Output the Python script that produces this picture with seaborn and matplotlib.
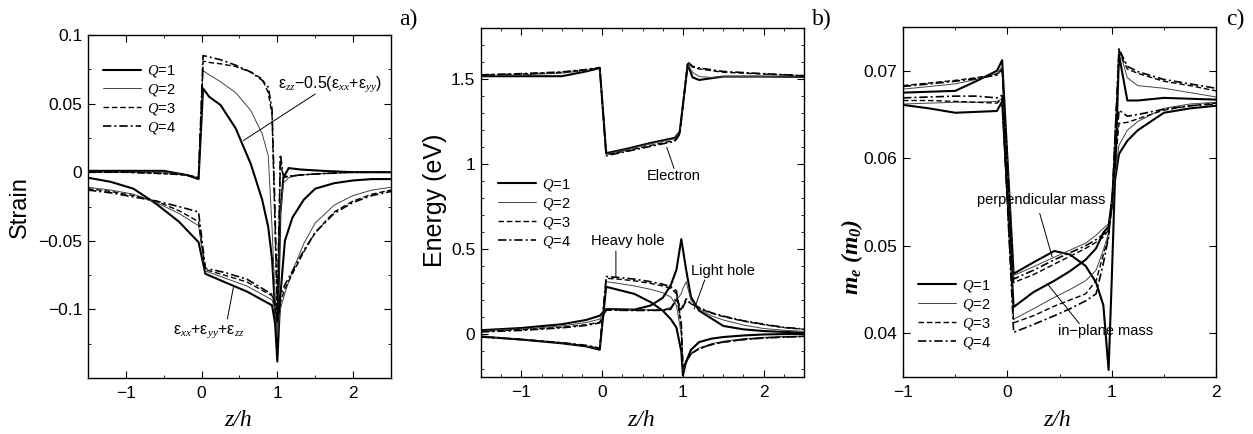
import numpy as np
import pandas as pd
import seaborn as sns
import matplotlib.pyplot as plt
from matplotlib.lines import Line2D
from matplotlib.ticker import MultipleLocator, FixedLocator, FuncFormatter
from matplotlib import font_manager

# ---------------------------------------------------------------- data
Q_LABELS = ["$Q$=1", "$Q$=2", "$Q$=3", "$Q$=4"]

# (a) strain along the dot axis
z_shear = [-1.5, -1.0, -0.5, -0.2, -0.04, 0.02, 0.1, 0.25, 0.45, 0.65, 0.8,
           0.88, 0.93, 0.97, 1.0, 1.04, 1.08, 1.15, 1.3, 1.6, 2.0, 2.5]
shear_q1 = [0.001, 0.001, 0.001, -0.002, -0.005, 0.061, 0.055, 0.049, 0.032, 0.006, -0.020,
            -0.040, -0.063, -0.100, -0.128, -0.030, -0.004, 0.003, 0.002, 0.001, 0.0, 0.0]
shear_q2 = [0.0, 0.0, 0.0, -0.002, -0.004, 0.074, 0.071, 0.066, 0.058, 0.045, 0.028,
            0.012, -0.040, -0.090, -0.118, -0.030, -0.008, -0.004, -0.002, -0.001, 0.0, 0.0]
shear_q3 = [0.0, 0.0, -0.001, -0.002, -0.004, 0.081, 0.080, 0.079, 0.077, 0.073, 0.068,
            0.058, 0.042, -0.040, -0.105, 0.008, -0.004, -0.003, -0.002, -0.001, 0.0, 0.0]
shear_q4 = [0.0, 0.0, -0.001, -0.002, -0.004, 0.085, 0.084, 0.082, 0.078, 0.073, 0.067,
            0.062, 0.046, -0.030, -0.100, 0.013, -0.003, -0.003, -0.002, -0.001, 0.0, 0.0]

z_trace = [-1.5, -1.2, -0.9, -0.6, -0.3, -0.04, 0.05, 0.3, 0.6, 0.93, 0.97, 1.0,
           1.04, 1.1, 1.2, 1.35, 1.5, 1.75, 2.0, 2.25, 2.5]
trace_q1 = [-0.004, -0.007, -0.012, -0.023, -0.036, -0.051, -0.074, -0.080, -0.087, -0.097, -0.110, -0.138,
            -0.090, -0.050, -0.033, -0.020, -0.012, -0.008, -0.006, -0.005, -0.005]
trace_q2 = [-0.011, -0.013, -0.016, -0.022, -0.030, -0.039, -0.072, -0.077, -0.083, -0.093, -0.100, -0.120,
            -0.100, -0.088, -0.072, -0.052, -0.037, -0.024, -0.017, -0.013, -0.011]
trace_q3 = [-0.012, -0.014, -0.017, -0.021, -0.028, -0.036, -0.071, -0.075, -0.080, -0.090, -0.098, -0.110,
            -0.095, -0.085, -0.074, -0.058, -0.044, -0.029, -0.021, -0.016, -0.013]
trace_q4 = [-0.013, -0.015, -0.018, -0.021, -0.025, -0.029, -0.070, -0.073, -0.078, -0.089, -0.096, -0.105,
            -0.090, -0.082, -0.072, -0.057, -0.044, -0.030, -0.022, -0.017, -0.014]

# (b) band edges
z_el = [-1.5, -1.0, -0.5, -0.2, -0.03, 0.05, 0.3, 0.6, 0.9, 0.96, 1.06, 1.12, 1.2, 1.35, 1.5, 2.0, 2.5]
el_q1 = [1.517, 1.517, 1.517, 1.545, 1.565, 1.065, 1.090, 1.125, 1.155, 1.190, 1.585, 1.510, 1.495, 1.505, 1.515, 1.515, 1.513]
el_q2 = [1.520, 1.525, 1.535, 1.550, 1.565, 1.060, 1.085, 1.120, 1.150, 1.185, 1.585, 1.540, 1.515, 1.510, 1.515, 1.515, 1.513]
el_q3 = [1.525, 1.530, 1.540, 1.555, 1.565, 1.055, 1.078, 1.110, 1.140, 1.180, 1.595, 1.570, 1.560, 1.550, 1.540, 1.530, 1.520]
el_q4 = [1.525, 1.532, 1.542, 1.556, 1.568, 1.050, 1.075, 1.105, 1.135, 1.175, 1.600, 1.575, 1.565, 1.555, 1.545, 1.532, 1.520]

z_hole = [-1.5, -1.0, -0.5, -0.2, -0.03, 0.05, 0.2, 0.4, 0.6, 0.75, 0.85, 0.92, 0.98, 1.0,
          1.04, 1.1, 1.2, 1.35, 1.5, 1.75, 2.0, 2.25, 2.5]
hh_q1 = [-0.012, -0.030, -0.052, -0.070, -0.090, 0.280, 0.262, 0.238, 0.190, 0.140, 0.090, 0.040, -0.100, -0.240,
         -0.160, -0.090, -0.045, -0.025, -0.015, -0.006, 0.000, 0.002, 0.004]
hh_q2 = [-0.012, -0.028, -0.050, -0.068, -0.085, 0.310, 0.300, 0.285, 0.265, 0.245, 0.220, 0.170, 0.000, -0.210,
         -0.170, -0.115, -0.080, -0.055, -0.040, -0.025, -0.017, -0.012, -0.009]
hh_q3 = [-0.014, -0.029, -0.050, -0.066, -0.082, 0.330, 0.325, 0.315, 0.300, 0.285, 0.270, 0.240, 0.050, -0.200,
         -0.160, -0.115, -0.085, -0.060, -0.045, -0.030, -0.020, -0.015, -0.011]
hh_q4 = [-0.015, -0.030, -0.048, -0.064, -0.080, 0.340, 0.335, 0.325, 0.310, 0.295, 0.280, 0.255, 0.060, -0.200,
         -0.160, -0.112, -0.083, -0.060, -0.045, -0.030, -0.021, -0.016, -0.012]
lh_q1 = [0.025, 0.038, 0.060, 0.085, 0.110, 0.150, 0.148, 0.146, 0.170, 0.215, 0.290, 0.380, 0.560, 0.500,
         0.380, 0.220, 0.140, 0.095, 0.050, 0.030, 0.020, 0.015, 0.010]
lh_q2 = [0.022, 0.032, 0.050, 0.070, 0.090, 0.150, 0.148, 0.145, 0.145, 0.145, 0.160, 0.200, 0.240, 0.270,
         0.310, 0.200, 0.150, 0.110, 0.085, 0.055, 0.035, 0.025, 0.018]
lh_q3 = [0.018, 0.027, 0.042, 0.057, 0.072, 0.145, 0.144, 0.142, 0.142, 0.143, 0.150, 0.200, 0.150, 0.170,
         0.210, 0.180, 0.155, 0.125, 0.105, 0.078, 0.058, 0.040, 0.030]
lh_q4 = [0.015, 0.024, 0.039, 0.053, 0.068, 0.143, 0.142, 0.141, 0.141, 0.142, 0.148, 0.220, 0.140, 0.160,
         0.200, 0.182, 0.158, 0.128, 0.108, 0.080, 0.060, 0.042, 0.032]

# (c) electron effective mass
z_mass = [-1.0, -0.75, -0.5, -0.3, -0.1, -0.05, 0.06, 0.25, 0.45, 0.6, 0.75, 0.85, 0.92, 0.97, 1.0,
          1.07, 1.15, 1.25, 1.5, 1.75, 2.0]
perp_q1 = [0.0675, 0.0676, 0.0677, 0.0688, 0.0700, 0.0712, 0.0468, 0.0481, 0.0494, 0.0490, 0.0477, 0.0458, 0.0432, 0.0358, 0.0460,
           0.0718, 0.0666, 0.0666, 0.0669, 0.0668, 0.0667]
perp_q2 = [0.0679, 0.0682, 0.0685, 0.0690, 0.0697, 0.0705, 0.0466, 0.0476, 0.0487, 0.0495, 0.0503, 0.0512, 0.0520, 0.0525, 0.0550,
           0.0725, 0.0692, 0.0683, 0.0680, 0.0675, 0.0670]
perp_q3 = [0.0683, 0.0686, 0.0689, 0.0692, 0.0696, 0.0700, 0.0458, 0.0467, 0.0479, 0.0488, 0.0497, 0.0504, 0.0510, 0.0518, 0.0540,
           0.0722, 0.0702, 0.0697, 0.0688, 0.0683, 0.0677]
perp_q4 = [0.0682, 0.0685, 0.0688, 0.0691, 0.0695, 0.0702, 0.0462, 0.0472, 0.0484, 0.0492, 0.0500, 0.0507, 0.0513, 0.0520, 0.0540,
           0.0725, 0.0705, 0.0699, 0.0690, 0.0685, 0.0680]
inpl_q1 = [0.0661, 0.0657, 0.0652, 0.0653, 0.0654, 0.0665, 0.0430, 0.0447, 0.0460, 0.0471, 0.0484, 0.0497, 0.0515, 0.0522, 0.0550,
           0.0605, 0.0620, 0.0632, 0.0652, 0.0657, 0.0660]
inpl_q2 = [0.0662, 0.0663, 0.0664, 0.0664, 0.0665, 0.0668, 0.0416, 0.0428, 0.0441, 0.0450, 0.0460, 0.0472, 0.0495, 0.0515, 0.0550,
           0.0615, 0.0632, 0.0642, 0.0657, 0.0662, 0.0664]
inpl_q3 = [0.0666, 0.0666, 0.0665, 0.0664, 0.0663, 0.0668, 0.0412, 0.0420, 0.0431, 0.0438, 0.0445, 0.0460, 0.0490, 0.0510, 0.0550,
           0.0640, 0.0641, 0.0645, 0.0655, 0.0660, 0.0663]
inpl_q4 = [0.0669, 0.0670, 0.0671, 0.0671, 0.0669, 0.0672, 0.0401, 0.0410, 0.0420, 0.0428, 0.0437, 0.0445, 0.0480, 0.0510, 0.0550,
           0.0655, 0.0648, 0.0650, 0.0656, 0.0660, 0.0662]

# ---------------------------------------------------------------- style
sns.set_style("ticks")
available = {f.name for f in font_manager.fontManager.ttflist}
SANS = "Liberation Sans Narrow" if "Liberation Sans Narrow" in available else "Liberation Sans"
SERIF = "Liberation Serif"
plt.rcParams.update({
    "font.family": [SANS, "DejaVu Sans"],
    "mathtext.fontset": "custom",
    "mathtext.rm": SANS,
    "mathtext.it": SERIF + ":italic",
    "mathtext.bf": SERIF + ":italic:bold",
    "text.color": "black",
    "axes.labelcolor": "black",
    "xtick.color": "black",
    "ytick.color": "black",
    "axes.linewidth": 1.0,
    "axes.edgecolor": "black",
    "xtick.direction": "in",
    "ytick.direction": "in",
    "xtick.top": True,
    "ytick.right": True,
    "xtick.major.size": 5,
    "ytick.major.size": 5,
    "xtick.minor.size": 2.5,
    "ytick.minor.size": 2.5,
    "xtick.major.width": 0.8,
    "ytick.major.width": 0.8,
    "xtick.minor.width": 0.6,
    "ytick.minor.width": 0.6,
    "xtick.labelsize": 12.5,
    "ytick.labelsize": 12.5,
    "xtick.major.pad": 6,
    "ytick.major.pad": 4,
})

LINE_STYLES = [
    dict(color="black", linewidth=1.5, linestyle="-"),
    dict(color="#444444", linewidth=0.7, linestyle="-"),
    dict(color="black", linewidth=1.0, linestyle=(0, (4.0, 2.0))),
    dict(color="black", linewidth=1.2, linestyle=(0, (5.0, 1.8, 1.2, 1.8))),
]


def draw_family(ax, z, series):
    for vals, st in zip(series, LINE_STYLES):
        frame = pd.DataFrame({"z": z, "v": vals})
        sns.lineplot(data=frame, x="z", y="v", ax=ax, estimator=None, sort=False,
                     legend=False, **st)


def fmt(v, pos):
    s = f"{v:g}"
    return s.replace("-", "\u2212")


def finish(ax, xlim, ylim, yticks, xminor, yminor):
    ax.set_xlim(*xlim)
    ax.set_ylim(*ylim)
    ax.xaxis.set_major_locator(MultipleLocator(1))
    ax.xaxis.set_minor_locator(MultipleLocator(xminor))
    ax.yaxis.set_major_locator(FixedLocator(yticks))
    if yminor:
        ax.yaxis.set_minor_locator(MultipleLocator(yminor))
    ax.xaxis.set_major_formatter(FuncFormatter(fmt))
    ax.yaxis.set_major_formatter(FuncFormatter(fmt))
    ax.set_xlabel("")
    ax.set_ylabel("")
    for sp in ax.spines.values():
        sp.set_visible(True)


def add_legend(ax, anchor):
    handles = [Line2D([], [], **st) for st in LINE_STYLES]
    ax.legend(handles, Q_LABELS, loc="upper left", bbox_to_anchor=anchor, frameon=False,
              fontsize=10.5, handlelength=2.6, handletextpad=0.4, labelspacing=0.2,
              borderaxespad=0.0)


def pointer(ax, start, end):
    ax.annotate("", xy=end, xytext=start,
                arrowprops=dict(arrowstyle="-", lw=0.7, color="black", shrinkA=0, shrinkB=0))


fig = plt.figure(figsize=(12.53, 4.34), dpi=100)
ax_a = fig.add_axes([0.0702, 0.1290, 0.2418, 0.7903])
ax_b = fig.add_axes([0.3839, 0.1313, 0.2578, 0.8041])
ax_c = fig.add_axes([0.7207, 0.1313, 0.2498, 0.8065])

# ---- (a) strain
draw_family(ax_a, z_shear, [shear_q1, shear_q2, shear_q3, shear_q4])
draw_family(ax_a, z_trace, [trace_q1, trace_q2, trace_q3, trace_q4])
finish(ax_a, (-1.5, 2.5), (-0.15, 0.1), [-0.1, -0.05, 0, 0.05, 0.1], 0.5, 0.025)
add_legend(ax_a, (0.03, 0.935))
ax_a.text(1.01, 0.064, r"ε$_{zz}$$-$0.5(ε$_{xx}$+ε$_{yy}$)", fontsize=11.5, ha="left", va="center")
pointer(ax_a, (1.50, 0.057), (0.55, 0.023))
ax_a.text(0.09, -0.116, r"ε$_{xx}$+ε$_{yy}$+ε$_{zz}$", fontsize=11.5, ha="center", va="center")
pointer(ax_a, (0.34, -0.107), (0.42, -0.084))

# ---- (b) band edges
draw_family(ax_b, z_el, [el_q1, el_q2, el_q3, el_q4])
draw_family(ax_b, z_hole, [hh_q1, hh_q2, hh_q3, hh_q4])
draw_family(ax_b, z_hole, [lh_q1, lh_q2, lh_q3, lh_q4])
finish(ax_b, (-1.5, 2.5), (-0.25, 1.8), [0, 0.5, 1, 1.5], 0.25, 0.1)
add_legend(ax_b, (0.035, 0.59))
ax_b.text(0.88, 0.93, "Electron", fontsize=10.5, ha="center", va="center")
pointer(ax_b, (0.89, 0.975), (0.80, 1.10))
ax_b.text(0.32, 0.55, "Heavy hole", fontsize=10.5, ha="center", va="center")
pointer(ax_b, (0.17, 0.49), (0.17, 0.34))
ax_b.text(1.49, 0.37, "Light hole", fontsize=10.5, ha="center", va="center")
pointer(ax_b, (1.27, 0.32), (1.14, 0.15))

# ---- (c) effective mass
draw_family(ax_c, z_mass, [perp_q1, perp_q2, perp_q3, perp_q4])
draw_family(ax_c, z_mass, [inpl_q1, inpl_q2, inpl_q3, inpl_q4])
finish(ax_c, (-1, 2), (0.035, 0.075), [0.04, 0.05, 0.06, 0.07], 0.5, None)
add_legend(ax_c, (0.03, 0.30))
ax_c.text(0.32, 0.0552, "perpendicular mass", fontsize=10.5, ha="center", va="center")
pointer(ax_c, (0.31, 0.0537), (0.43, 0.0487))
ax_c.text(0.94, 0.0403, "in\u2212plane mass", fontsize=10.5, ha="center", va="center")
pointer(ax_c, (0.69, 0.0411), (0.38, 0.0457))

# ---- axis titles and panel tags
fig.text(0.016, 0.523, "Strain", rotation=90, ha="center", va="center", fontsize=17,
         family="Liberation Sans")
fig.text(0.347, 0.539, "Energy (eV)", rotation=90, ha="center", va="center", fontsize=18,
         family="Liberation Sans")
fig.text(0.680, 0.408, r"$\mathbf{m_e\ (m_0)}$", rotation=90, ha="center", va="center", fontsize=17)
for x_pos in (0.190, 0.512, 0.844):
    fig.text(x_pos, 0.032, "z/h", ha="center", va="center", fontsize=17,
             family=SERIF, style="italic")
for x_pos, tag in ((0.326, "a)"), (0.656, "b)"), (0.986, "c)")):
    fig.text(x_pos, 0.955, tag, ha="center", va="center", fontsize=17, family=SERIF)

fig.savefig("out.png", dpi=100)
